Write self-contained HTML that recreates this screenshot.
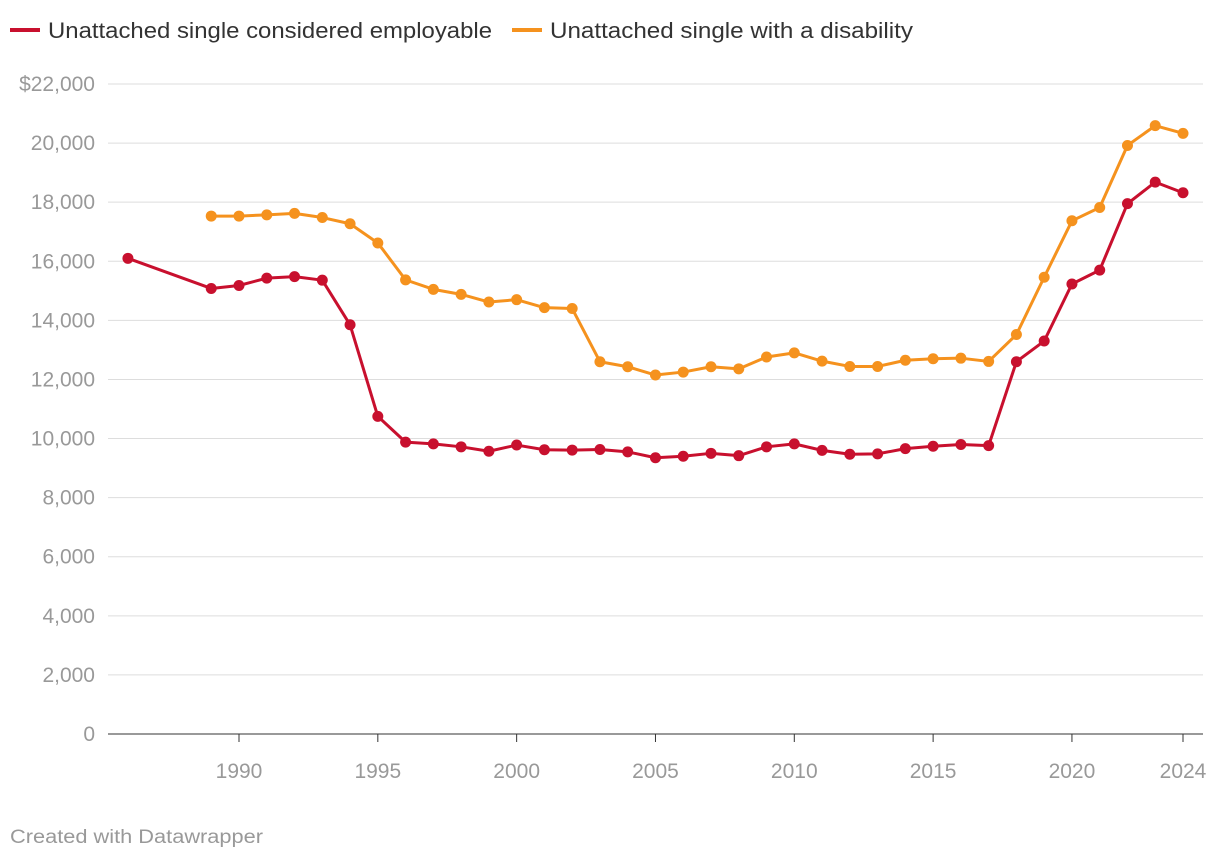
<!DOCTYPE html>
<html><head><meta charset="utf-8"><style>
body{margin:0;background:#fff;width:1220px;height:860px;overflow:hidden;font-family:"Liberation Sans",sans-serif}
</style></head><body>
<svg width="1220" height="860" id="c">
<g>
<rect x="10" y="28" width="30" height="4" fill="#c8102e"/>
<text x="48" y="38" font-size="22" fill="#333" textLength="444" lengthAdjust="spacingAndGlyphs">Unattached single considered employable</text>
<rect x="512" y="28" width="30" height="4" fill="#f5921e"/>
<text x="550" y="38" font-size="22" fill="#333" textLength="363" lengthAdjust="spacingAndGlyphs">Unattached single with a disability</text>
</g>
<g id="grid"></g><g id="series"></g>
<text x="10" y="843" font-size="19" fill="#999" textLength="253" lengthAdjust="spacingAndGlyphs">Created with Datawrapper</text>
</svg>
<script>
const years=[1986,1989,1990,1991,1992,1993,1994,1995,1996,1997,1998,1999,2000,2001,2002,2003,2004,2005,2006,2007,2008,2009,2010,2011,2012,2013,2014,2015,2016,2017,2018,2019,2020,2021,2022,2023,2024];
const employable=[16100,15080,15180,15430,15480,15360,13850,10750,9880,9820,9720,9570,9780,9620,9610,9630,9550,9350,9400,9500,9420,9720,9820,9600,9470,9480,9660,9740,9800,9760,12600,13300,15230,15700,17950,18680,18320];
const disabilityYears=[1989,1990,1991,1992,1993,1994,1995,1996,1997,1998,1999,2000,2001,2002,2003,2004,2005,2006,2007,2008,2009,2010,2011,2012,2013,2014,2015,2016,2017,2018,2019,2020,2021,2022,2023,2024];
const disability=[17530,17530,17570,17620,17480,17270,16620,15370,15050,14880,14620,14700,14430,14400,12600,12430,12150,12250,12430,12360,12760,12900,12620,12440,12440,12650,12700,12720,12610,13520,15460,17370,17820,19920,20590,20330];
const yTicks=[0,2000,4000,6000,8000,10000,12000,14000,16000,18000,20000,22000];
const xTicks=[1990,1995,2000,2005,2010,2015,2020,2024];
const NS="http://www.w3.org/2000/svg";
const X=y=>239+(y-1990)*(944/34);
const Y=v=>734-v*650/22000;
function mk(t,a,p){const e=document.createElementNS(NS,t);for(const k in a)e.setAttribute(k,a[k]);p.appendChild(e);return e;}
const g=document.getElementById('grid');
yTicks.forEach(v=>{
 const l=mk('line',{x1:108,x2:1203,y1:Y(v),y2:Y(v),stroke:v===0?'#333':'#ddd','stroke-width':1},g);
 
 
 const t=mk('text',{x:95,y:Y(v)+7,'text-anchor':'end','font-size':21,fill:'#999'},g);
 t.textContent=v===22000?'$22,000':v.toLocaleString('en-US');
 
 
});
xTicks.forEach(yr=>{
 const l=mk('line',{x1:X(yr),x2:X(yr),y1:734,y2:742,stroke:'#333'},g);
 
 
 const t=mk('text',{x:X(yr),y:778,'text-anchor':'middle','font-size':21,fill:'#999'},g);
 t.textContent=yr;
 
 
});
const s=document.getElementById('series');
function draw(xs,vs,col,name){
 const p=mk('polyline',{points:xs.map((x,i)=>X(x)+','+Y(vs[i])).join(' '),fill:'none',stroke:col,'stroke-width':3,'stroke-linejoin':'round'},s);
 
 
 xs.forEach((x,i)=>{
  const c=mk('circle',{cx:X(x),cy:Y(vs[i]),r:5.5,fill:col},s);
  
  
 });
}
draw(disabilityYears,disability,'#f5921e','disability');
draw(years,employable,'#c8102e','employable');
</script>
</body></html>
